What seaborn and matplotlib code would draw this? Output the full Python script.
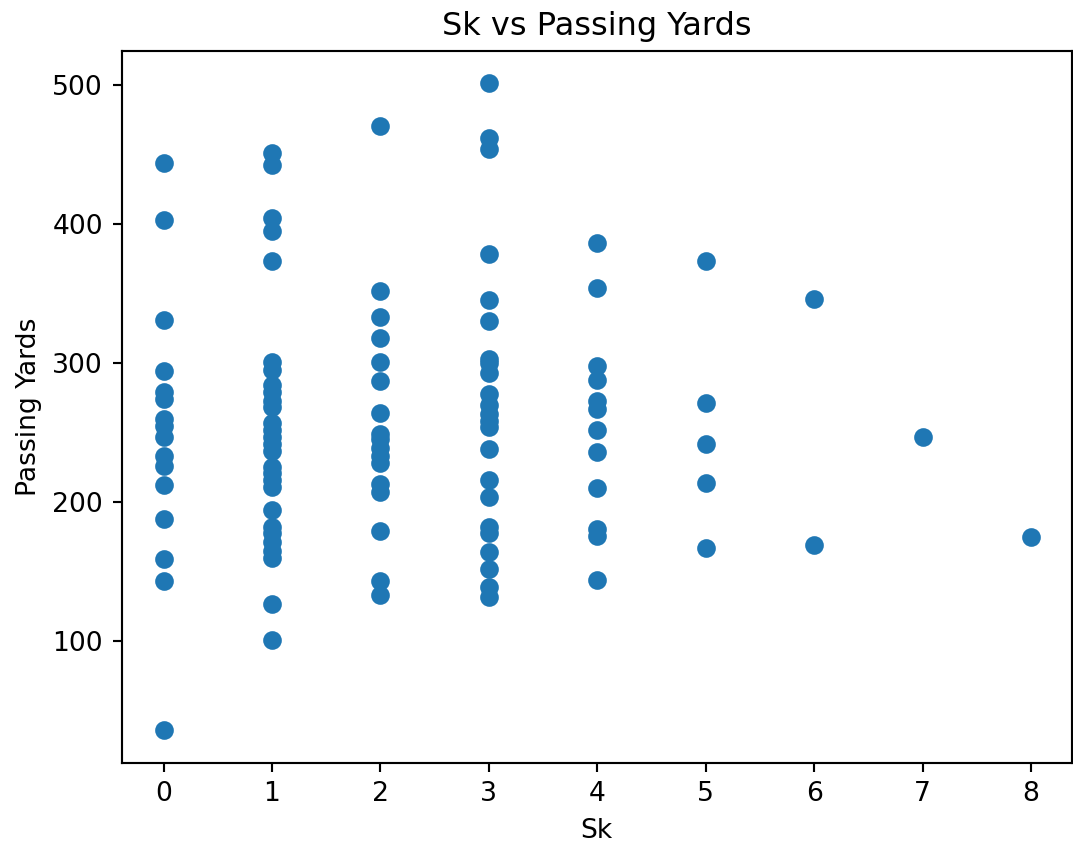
#!/usr/bin/env python3

import matplotlib
matplotlib.use("Agg")
import matplotlib.pyplot as plt
import seaborn as sns
from pandas import DataFrame

# passing yards per game, grouped by sacks taken
sk_0 = [444, 403, 331, 294, 279, 274, 260, 255, 247, 233, 226, 212, 188, 159, 143, 36]
sk_1 = [451, 442, 404, 395, 373, 301, 295, 284, 279, 273, 268, 257, 252, 247,
        242, 237, 225, 221, 216, 211, 194, 182, 178, 171, 165, 160, 127, 101]
sk_2 = [470, 352, 333, 318, 301, 287, 264, 249, 245, 239, 233, 228, 213, 207, 179, 143, 133]
sk_3 = [501, 462, 454, 378, 345, 330, 303, 300, 293, 278, 270, 263, 258, 254,
        238, 216, 204, 182, 178, 164, 152, 139, 132]
sk_4 = [386, 354, 298, 288, 273, 267, 252, 236, 210, 181, 176, 144]
sk_5 = [373, 271, 242, 214, 167]
sk_6 = [346, 169]
sk_7 = [247]
sk_8 = [175]


def build_frame():
    groups = [sk_0, sk_1, sk_2, sk_3, sk_4, sk_5, sk_6, sk_7, sk_8]
    rows = []
    for sk, yards in enumerate(groups):
        for y in yards:
            rows.append({"Sk": sk, "Passing Yards": y})
    return DataFrame(rows)


def main():
    data = build_frame()

    fig = plt.figure(figsize=(1073 / 192, 849 / 192), dpi=192)
    ax = fig.add_axes([0.1134, 0.1017, 0.8854, 0.8383])

    sns.scatterplot(data=data, x="Sk", y="Passing Yards", ax=ax,
                    s=36, color="#1f77b4", edgecolor="#1f77b4", linewidth=1)

    ax.set_xlim(-0.386, 8.375)
    ax.set_title("Sk vs Passing Yards")
    ax.set_xlabel("Sk")
    ax.set_ylabel("Passing Yards")

    plt.savefig("out.png", dpi=192)


if __name__ == "__main__":
    main()
